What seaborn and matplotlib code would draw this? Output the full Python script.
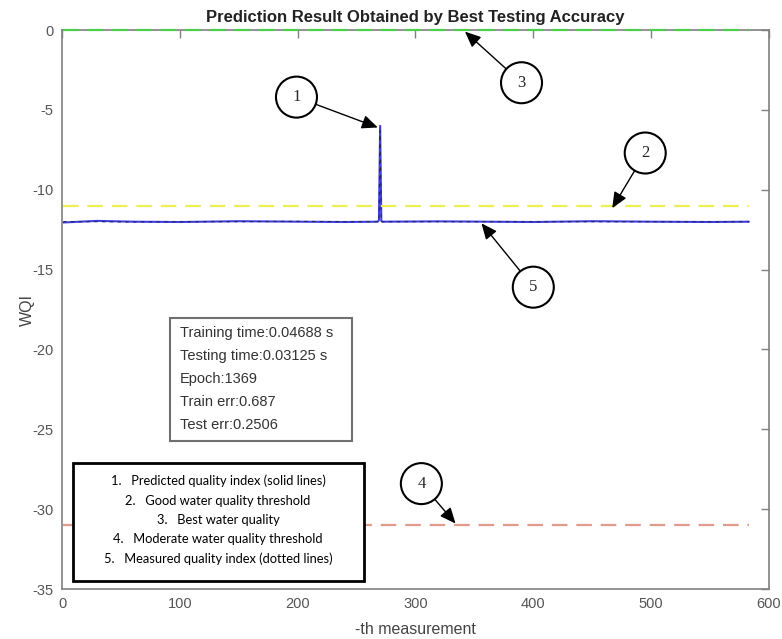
import numpy as np
import pandas as pd
import matplotlib
matplotlib.use("Agg")
import matplotlib.pyplot as plt
from matplotlib.patches import Rectangle
import seaborn as sns

# measured / predicted water quality index
meas_idx = [1, 30, 60, 100, 150, 200, 240, 268, 269, 270, 271, 272, 320, 400, 450, 500, 550, 583]
predicted = [-12.05, -11.95, -12.0, -12.02, -11.97, -12.0, -12.02, -12.0, -11.9, -6.0, -11.95, -12.0,
             -11.98, -12.02, -11.97, -12.0, -12.02, -12.0]
measured = [-12.0, -12.0, -12.02, -12.0, -12.0, -11.98, -12.0, -12.0, -12.0, -6.3, -12.0, -12.0,
            -12.0, -12.0, -12.0, -12.0, -12.0, -12.0]

# threshold lines
thr_names = ["Best water quality", "Good water quality threshold", "Moderate water quality threshold"]
thr_values = [0, -11, -31]
thr_colors = ["#4ccf4c", "#eeee55", "#e29a8c"]
thr_span = [1, 583]

stat_lines = ["Training time:0.04688 s", "Testing time:0.03125 s", "Epoch:1369",
              "Train err:0.687", "Test err:0.2506"]

legend_lines = ["1.   Predicted quality index (solid lines)",
                "2.   Good water quality threshold",
                "3.   Best water quality",
                "4.   Moderate water quality threshold",
                "5.   Measured quality index (dotted lines)"]

# callout number, circle centre, arrow tip
callouts = [
    ("1", (199, -4.2), (268, -6.1)),
    ("2", (495, -7.7), (467, -11.15)),
    ("3", (390, -3.3), (342, -0.1)),
    ("4", (305, -28.4), (334, -30.9)),
    ("5", (400, -16.1), (356, -12.1)),
]

sns.set_style("white")
plt.rcParams["font.family"] = ["Liberation Sans", "DejaVu Sans"]
plt.rcParams["axes.unicode_minus"] = False

fig = plt.figure(figsize=(7.82, 6.39), dpi=100)
ax = fig.add_axes([0.0793, 0.0782, 0.904, 0.8748])

for name, val, col in zip(thr_names, thr_values, thr_colors):
    df_t = pd.DataFrame({"x": thr_span, "y": [val, val]})
    sns.lineplot(data=df_t, x="x", y="y", ax=ax, color=col, linewidth=1.6, zorder=3)
    ax.lines[-1].set_dashes([7, 4])
    ax.lines[-1].set_clip_on(False)

df = pd.DataFrame({"idx": meas_idx, "predicted": predicted, "measured": measured})
sns.lineplot(data=df, x="idx", y="predicted", ax=ax, color="#3f3fe0", linewidth=1.5)
sns.lineplot(data=df, x="idx", y="measured", ax=ax, color="#23235e", linewidth=0.8)
ax.lines[-1].set_dashes([3, 4])

ax.set_xlim(0, 600)
ax.set_ylim(-35, 0)
ax.set_xticks(range(0, 601, 100))
ax.set_yticks(range(-35, 1, 5))
ax.tick_params(direction="in", length=6, width=1, colors="#808080", labelcolor="#555555",
               labelsize=10.5, top=True, right=True, pad=6)
for s in ax.spines.values():
    s.set_color("#808080")
    s.set_linewidth(1.2)

ax.set_title("Prediction Result Obtained by Best Testing Accuracy", fontsize=12,
             fontweight="bold", color="#222222", pad=6)
ax.set_xlabel("-th measurement", fontsize=11.5, color="#444444", labelpad=8)
ax.set_ylabel("WQI", fontsize=11.5, color="#444444", labelpad=-2)

# stats box
ax.add_patch(Rectangle((91.7, -25.74), 154.5, 7.71, facecolor="white",
                       edgecolor="#707070", linewidth=1.5, zorder=5))
for i, line in enumerate(stat_lines):
    ax.text(100.2, -18.97 - i * 1.44, line, fontsize=10.5, color="#333333",
            va="center", ha="left", zorder=6)

# numbered key box
ax.add_patch(Rectangle((9.3, -34.5), 247, 7.4, facecolor="white",
                       edgecolor="black", linewidth=2, zorder=5))
for i, line in enumerate(legend_lines):
    ax.text(132.4, -28.25 - i * 1.21, line, fontsize=9.3, color="black",
            family=["Lato", "DejaVu Sans"], va="center", ha="center", zorder=6)

# circled callouts with arrows
for num, (cx, cy), (tx, ty) in callouts:
    ax.annotate(num, xy=(tx, ty), xytext=(cx, cy), fontsize=12,
                family=["Liberation Serif", "DejaVu Serif"], ha="center", va="center",
                bbox=dict(boxstyle="circle,pad=0.75", facecolor="white",
                          edgecolor="black", linewidth=1.5),
                arrowprops=dict(arrowstyle="-|>,head_length=0.8,head_width=0.35",
                                color="black", linewidth=1.0, shrinkA=0, shrinkB=0),
                zorder=7, annotation_clip=False)

fig.savefig("out.png", dpi=100)
